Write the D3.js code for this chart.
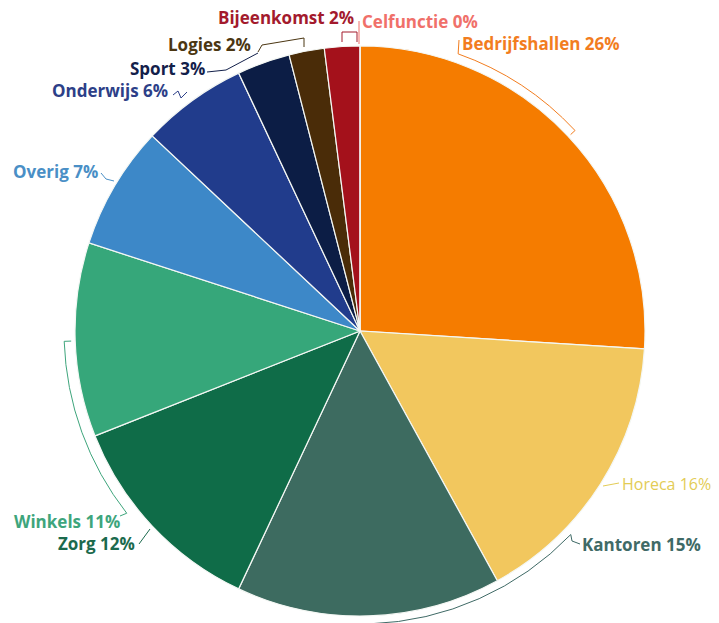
<!DOCTYPE html>
<html>
<head>
<meta charset="utf-8">
<script src="https://cdn.jsdelivr.net/npm/d3@7"></script>
<style>
  html, body { margin: 0; padding: 0; background: #fff; }
  svg { display: block; }
  text { font-family: "Open Sans", Lato, sans-serif; }
</style>
</head>
<body>
<svg id="chart" width="719" height="623"></svg>
<script>
// Gebruiksfuncties en hun aandeel (%)
const categories = ["Bedrijfshallen", "Horeca", "Kantoren", "Zorg", "Winkels", "Overig",
                    "Onderwijs", "Sport", "Logies", "Bijeenkomst", "Celfunctie"];
const shares = [26, 16, 15, 12, 11, 7, 6, 3, 2, 2, 0];

const sliceColors = ["#f57c00", "#f2c75e", "#3d6b60", "#0f6c48", "#36a77a", "#3d88c8",
                     "#213c8c", "#0c1d45", "#4a2c08", "#a4111b", "#e85a55"];
const labelColors = ["#f27d1f", "#e3cc55", "#3f6a66", "#1b6a4d", "#3ea57c", "#4a8fc6",
                     "#2d3f88", "#13204a", "#4b3612", "#a31a2d", "#f0706a"];

const W = 719, H = 623;
const cx = 360, cy = 331, R = 285;
const deg = Math.PI / 180;

const svg = d3.select("#chart");
const g = svg.append("g").attr("transform", `translate(${cx},${cy})`);

const pie = d3.pie().sort(null).value(d => d.value);
const arcs = pie(categories.map((c, i) => ({ name: c, value: shares[i], i })));
const arc = d3.arc().innerRadius(0).outerRadius(R);

g.selectAll("path.slice")
  .data(arcs)
  .join("path")
  .attr("class", "slice")
  .attr("d", arc)
  .attr("fill", d => sliceColors[d.data.i])
  .attr("stroke", "#f4f7f4")
  .attr("stroke-width", 1.2);

// Helper: point on a circle at angle (deg, clockwise from top)
const pt = (a, r) => [cx + r * Math.sin(a * deg), cy - r * Math.cos(a * deg)];

// Label placement
const labelPos = {
  Bedrijfshallen: [462, 50, "start"],
  Horeca: [622, 490, "start"],
  Kantoren: [582, 551, "start"],
  Zorg: [58, 550, "start"],
  Winkels: [14, 528, "start"],
  Overig: [13, 178, "start"],
  Onderwijs: [52, 97, "start"],
  Sport: [130, 75, "start"],
  Logies: [168, 51, "start"],
  Bijeenkomst: [218, 24, "start"],
  Celfunctie: [362, 28, "start"]
};
const labelWeight = { Horeca: 400 };
const labelSize = { Horeca: 16 };

const lines = svg.append("g").attr("fill", "none").attr("stroke-width", 1);
const line = d3.line();

// Bracket arcs that follow the rim
function rimArc(a0, a1, r) {
  const p = d3.path();
  p.arc(cx, cy, r, (a0 - 90) * deg, (a1 - 90) * deg, a1 < a0);
  return p.toString();
}

const leaders = {
  Bedrijfshallen: () => {
    lines.append("path").attr("d", rimArc(19.5, 47, 294)).attr("stroke", labelColors[0]);
    lines.append("path").attr("d", line([pt(19.5, 294), [459, 40]])).attr("stroke", labelColors[0]);
    lines.append("path").attr("d", line([pt(47, 294), pt(47, 288)])).attr("stroke", labelColors[0]);
  },
  Horeca: () => {
    lines.append("path").attr("d", line([[603, 486], [619, 483]])).attr("stroke", labelColors[1]);
  },
  Kantoren: () => {
    lines.append("path").attr("d", rimArc(134, 178, 293)).attr("stroke", labelColors[2]);
    lines.append("path").attr("d", line([pt(178, 293), pt(178, 300)])).attr("stroke", labelColors[2]);
    lines.append("path").attr("d", line([pt(134, 293), [572, 541], [580, 544]])).attr("stroke", labelColors[2]);
  },
  Zorg: () => {
    lines.append("path").attr("d", line([[139, 544], [150, 529]])).attr("stroke", labelColors[3]);
  },
  Winkels: () => {
    lines.append("path").attr("d", rimArc(232, 268, 296)).attr("stroke", labelColors[4]);
    lines.append("path").attr("d", line([pt(268, 296), pt(268, 289)])).attr("stroke", labelColors[4]);
    lines.append("path").attr("d", line([pt(232, 296), [120, 516]])).attr("stroke", labelColors[4]);
  },
  Overig: () => {
    lines.append("path").attr("d", line([[101, 173], [106, 179], [114, 181]])).attr("stroke", labelColors[5]);
  },
  Onderwijs: () => {
    lines.append("path").attr("d", line([[173, 95], [178, 91], [181, 98], [187, 92]])).attr("stroke", labelColors[6]);
  },
  Sport: () => {
    lines.append("path").attr("d", line([[207, 72], [226, 70], [258, 53]])).attr("stroke", labelColors[7]);
  },
  Logies: () => {
    lines.append("path").attr("d", line([[258, 52], [262, 45], [304, 38], [304, 47]])).attr("stroke", labelColors[8]);
  },
  Bijeenkomst: () => {
    lines.append("path").attr("d", line([[342, 42], [342, 32], [357, 32], [357, 42]])).attr("stroke", labelColors[9]);
  },
  Celfunctie: () => {
    lines.append("path").attr("d", line([[359, 21], [359, 44]])).attr("stroke", labelColors[10]);
  }
};
categories.forEach(c => leaders[c]());

svg.append("g").selectAll("text")
  .data(categories.map((c, i) => ({ c, i })))
  .join("text")
  .attr("x", d => labelPos[d.c][0])
  .attr("y", d => labelPos[d.c][1])
  .attr("text-anchor", d => labelPos[d.c][2])
  .attr("fill", d => labelColors[d.i])
  .style("font-weight", d => labelWeight[d.c] || 700)
  .style("font-size", d => `${labelSize[d.c] || 17}px`)
  .text(d => `${d.c} ${shares[d.i]}%`);
</script>
</body>
</html>
